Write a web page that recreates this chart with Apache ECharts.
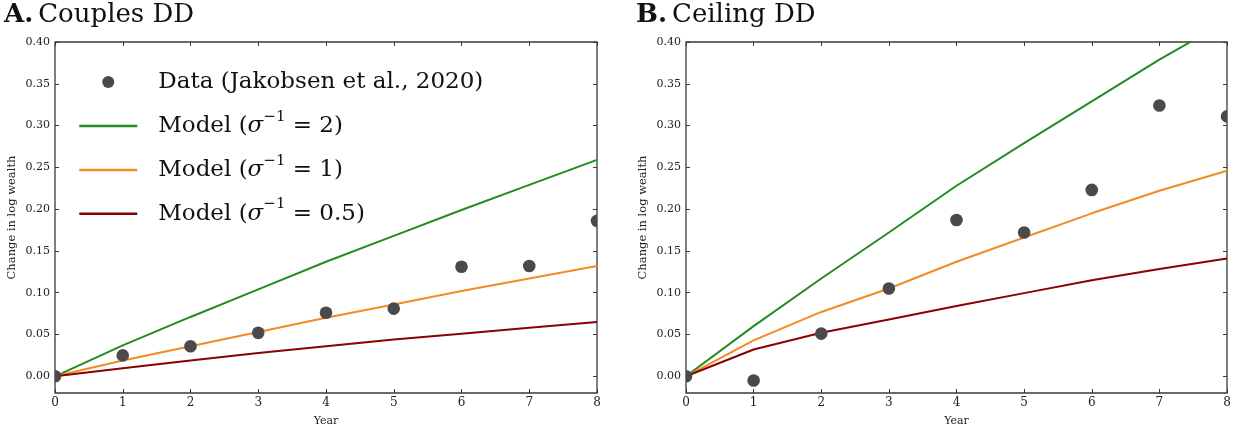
<!DOCTYPE html>
<html>
<head>
<meta charset="utf-8">
<script src="https://cdn.jsdelivr.net/npm/echarts@6/dist/echarts.min.js"></script>
<style>
  html, body { margin: 0; padding: 0; background: #fff; }
  #chart { width: 1234px; height: 433px; }
</style>
</head>
<body>
<div id="chart"></div>
<script>
// Years since the event
const years = [0, 1, 2, 3, 4, 5, 6, 7, 8];
const yTicks = [0, 0.05, 0.10, 0.15, 0.20, 0.25, 0.30, 0.35, 0.40];

// Panel A: couples
const couplesData   = [0.000, 0.025, 0.036, 0.052, 0.076, 0.081, 0.131, 0.132, 0.186];
const couplesSig2   = [0.000, 0.037, 0.071, 0.104, 0.137, 0.168, 0.199, 0.229, 0.259];
const couplesSig1   = [0.000, 0.019, 0.036, 0.053, 0.070, 0.086, 0.102, 0.117, 0.132];
const couplesSig05  = [0.000, 0.0095, 0.019, 0.028, 0.036, 0.044, 0.051, 0.058, 0.065];

// Panel B: ceiling
const ceilingData   = [0.000, -0.005, 0.051, 0.105, 0.187, 0.172, 0.223, 0.324, 0.311];
const ceilingSig2   = [0.000, 0.060, 0.117, 0.172, 0.228, 0.279, 0.329, 0.379, 0.425];
const ceilingSig1   = [0.000, 0.043, 0.077, 0.105, 0.137, 0.166, 0.195, 0.222, 0.246];
const ceilingSig05  = [0.000, 0.032, 0.052, 0.068, 0.084, 0.0995, 0.115, 0.1285, 0.141];

const legendTexts = {
  data:  '{t|Data (Jakobsen et al., 2020)}',
  sig2:  '{t|Model (}{i|σ}{s|−1}{t| = 2)}',
  sig1:  '{t|Model (}{i|σ}{s|−1}{t| = 1)}',
  sig05: '{t|Model (}{i|σ}{s|−1}{t| = 0.5)}'
};

const FONT = '"DejaVu Serif", "Liberation Serif", serif';
const GREEN = '#228b22', ORANGE = '#f28a26', RED = '#8b0000', DOT = '#4a4a4a';
const SPINE = '#3a3a3a';

const grids = [
  { left: 55, top: 42, width: 542, height: 351 },
  { left: 686, top: 42, width: 541, height: 351 }
];

const pairs = ys => years.map((x, i) => [x, ys[i]]);

function xAxes(gi) {
  const base = {
    type: 'value', gridIndex: gi, min: 0, max: 8, interval: 1,
    splitLine: { show: false },
    axisLine: { show: false, onZero: false },
    axisTick: { show: true, inside: true, length: 4, lineStyle: { color: SPINE, width: 1 } }
  };
  return [
    Object.assign({}, base, {
      position: 'bottom',
      name: 'Year', nameLocation: 'middle', nameGap: 23,
      nameTextStyle: { fontFamily: FONT, fontSize: 11, color: '#222' },
      axisLabel: { fontFamily: FONT, fontSize: 12, color: '#222', margin: 4 }
    }),
    Object.assign({}, base, { position: 'top', axisLabel: { show: false } })
  ];
}

function yAxes(gi) {
  const base = {
    type: 'value', gridIndex: gi, min: -0.02, max: 0.40,
    splitLine: { show: false },
    axisLine: { show: false, onZero: false },
    axisTick: { show: true, inside: true, length: 4, customValues: yTicks,
                lineStyle: { color: SPINE, width: 1 } }
  };
  return [
    Object.assign({}, base, {
      position: 'left',
      name: 'Change in log wealth', nameLocation: 'middle', nameGap: 37, nameRotate: 90,
      nameTextStyle: { fontFamily: FONT, fontSize: 11.5, color: '#222' },
      axisLabel: { fontFamily: FONT, fontSize: 11, color: '#222', margin: 5,
                   customValues: yTicks, formatter: v => v.toFixed(2) }
    }),
    Object.assign({}, base, { position: 'right', axisLabel: { show: false } })
  ];
}

// Filled dots, clipped to the plotting area like the lines
function dotRenderer(params, api) {
  const p = api.coord([api.value(0), api.value(1)]);
  return {
    type: 'circle',
    shape: { cx: p[0], cy: p[1], r: 6.3 },
    style: { fill: DOT }
  };
}

function panelSeries(gi, dots, s2, s1, s05) {
  const ax = { xAxisIndex: gi * 2, yAxisIndex: gi * 2 };
  const line = (name, ys, color) => Object.assign({
    name, type: 'line', data: pairs(ys), symbol: 'none', clip: true,
    lineStyle: { color, width: 2 }, itemStyle: { color }, z: 2, silent: true
  }, ax);
  return [
    Object.assign({
      name: 'data', type: 'custom', data: pairs(dots), renderItem: dotRenderer, clip: true,
      itemStyle: { color: DOT }, z: 3, silent: true
    }, ax),
    line('sig2', s2, GREEN),
    line('sig1', s1, ORANGE),
    line('sig05', s05, RED)
  ];
}

const titleRich = {
  b: { fontFamily: FONT, fontSize: 26, fontWeight: 'bold', color: '#111' },
  r: { fontFamily: FONT, fontSize: 26, fontWeight: 'normal', color: '#111' }
};

const hiddenMarker = { color: 'rgba(0,0,0,0)', opacity: 0, borderWidth: 0 };

const option = {
  animation: false,
  backgroundColor: '#fff',
  title: [
    { text: '{b|A.} {r|Couples DD}', left: 4, top: 2, padding: 0,
      textStyle: { fontWeight: 'normal', rich: titleRich } },
    { text: '{b|B.} {r|Ceiling DD}', left: 636, top: 2, padding: 0,
      textStyle: { fontWeight: 'normal', rich: titleRich } }
  ],
  grid: grids.map(g => Object.assign({ show: true, borderColor: SPINE, borderWidth: 1.3,
                                        backgroundColor: 'transparent' }, g)),
  xAxis: [...xAxes(0), ...xAxes(1)],
  yAxis: [...yAxes(0), ...yAxes(1)],
  legend: {
    orient: 'vertical', left: 78, top: 70.5, padding: 0,
    itemWidth: 58, itemHeight: 12, itemGap: 15.7,
    selectedMode: false,
    lineStyle: { width: 2.5 },
    data: [
      { name: 'data', icon: 'circle', itemStyle: { color: DOT } },
      { name: 'sig2', itemStyle: hiddenMarker },
      { name: 'sig1', itemStyle: hiddenMarker },
      { name: 'sig05', itemStyle: hiddenMarker }
    ],
    formatter: n => legendTexts[n],
    textStyle: {
      padding: [0, 0, 0, 16],
      rich: {
        t: { fontFamily: FONT, fontSize: 23, lineHeight: 33.5, color: '#111' },
        i: { fontFamily: FONT, fontSize: 23, lineHeight: 33.5, fontStyle: 'italic', color: '#111' },
        s: { fontFamily: FONT, fontSize: 15, lineHeight: 20, verticalAlign: 'top', color: '#111' }
      }
    }
  },
  series: [
    ...panelSeries(0, couplesData, couplesSig2, couplesSig1, couplesSig05),
    ...panelSeries(1, ceilingData, ceilingSig2, ceilingSig1, ceilingSig05)
  ]
};

const chart = echarts.init(document.getElementById('chart'), null, { renderer: 'canvas' });
chart.setOption(option);
</script>
</body>
</html>
